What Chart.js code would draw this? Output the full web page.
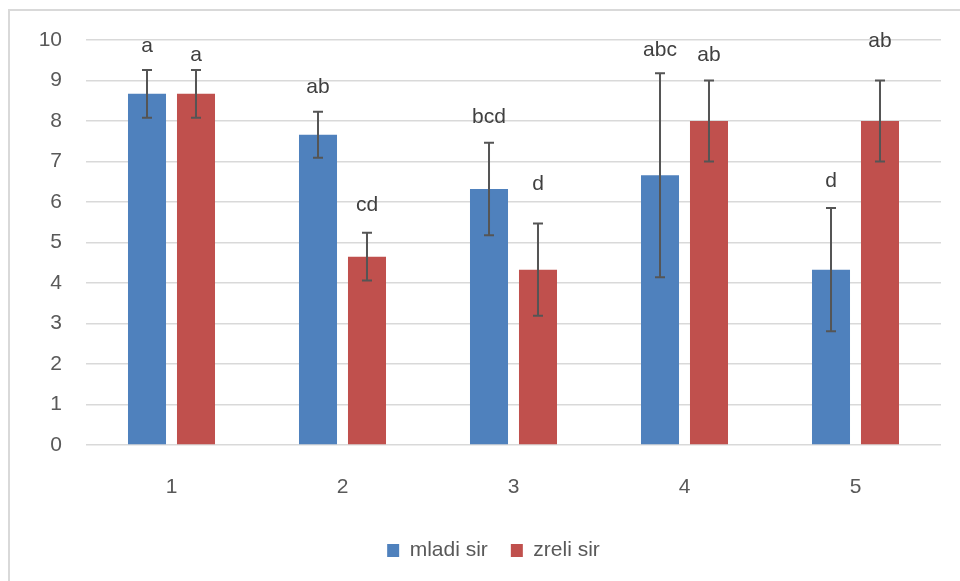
<!DOCTYPE html>
<html>
<head>
<meta charset="utf-8">
<script src="https://cdn.jsdelivr.net/npm/chart.js@4/dist/chart.umd.min.js"></script>
<style>
  body { margin: 0; background: #fff; }
  #wrap { position: relative; width: 960px; height: 581px; overflow: hidden; }
  #frame { position: absolute; left: 8px; top: 9px; width: 1000px; height: 700px;
           border-left: 2px solid #d9d9d9; border-top: 2px solid #d9d9d9; }
  canvas { position: absolute; left: 0; top: 0; }
</style>
</head>
<body>
<div id="wrap">
  <div id="frame"></div>
  <canvas id="myChart" width="960" height="581"></canvas>
</div>
<script>
// categories and series
const groups = ['1', '2', '3', '4', '5'];
const mladiMean = [8.67, 7.66, 6.32, 6.66, 4.33];
const mladiErr  = [0.59, 0.57, 1.14, 2.52, 1.52];
const zreliMean = [8.67, 4.65, 4.33, 8.0, 8.0];
const zreliErr  = [0.59, 0.59, 1.14, 1.0, 1.0];

// significance letters and where their baseline sits (axis units)
const mladiLetters = ['a', 'ab', 'bcd', 'abc', 'd'];
const mladiLetterAt = [9.71, 8.70, 7.96, 9.60, 6.36];
const zreliLetters = ['a', 'cd', 'd', 'ab', 'ab'];
const zreliLetterAt = [9.48, 5.77, 6.29, 9.48, 9.83];

const yTicks = [0, 1, 2, 3, 4, 5, 6, 7, 8, 9, 10];

const errs = [mladiErr, zreliErr];
const means = [mladiMean, zreliMean];
const letters = [mladiLetters, zreliLetters];
const letterAt = [mladiLetterAt, zreliLetterAt];

const FONT = "'Liberation Sans', Arial, sans-serif";

// error bars + letters drawn on top of the bars
const extrasPlugin = {
    id: 'extras',
    afterDatasetsDraw(chart) {
        const ctx = chart.ctx;
        const y = chart.scales.y;
        ctx.save();
        chart.data.datasets.forEach((ds, i) => {
            const meta = chart.getDatasetMeta(i);
            meta.data.forEach((bar, j) => {
                const top = y.getPixelForValue(means[i][j] + errs[i][j]);
                const bot = y.getPixelForValue(means[i][j] - errs[i][j]);
                ctx.strokeStyle = '#555555';
                ctx.lineWidth = 2;
                ctx.beginPath();
                ctx.moveTo(bar.x, top); ctx.lineTo(bar.x, bot);
                ctx.moveTo(bar.x - 5, top); ctx.lineTo(bar.x + 5, top);
                ctx.moveTo(bar.x - 5, bot); ctx.lineTo(bar.x + 5, bot);
                ctx.stroke();

                ctx.fillStyle = '#404040';
                ctx.font = '21px ' + FONT;
                ctx.textAlign = 'center';
                ctx.textBaseline = 'alphabetic';
                ctx.fillText(letters[i][j], bar.x, y.getPixelForValue(letterAt[i][j]));
            });
        });
        ctx.restore();
    }
};

// the legend in the original sits a bit right of centre
const legendShift = {
    id: 'legendShift',
    afterLayout(chart) {
        chart.legend.left += 23;
        chart.legend.right += 23;
    }
};

const ctx = document.getElementById('myChart').getContext('2d');

const myChart = new Chart(ctx, {
    type: 'bar',
    data: {
        labels: groups,
        datasets: [{
            label: 'mladi sir',
            data: mladiMean,
            backgroundColor: '#4F81BD',
            categoryPercentage: 0.573,
            barPercentage: 0.776
        }, {
            label: 'zreli sir',
            data: zreliMean,
            backgroundColor: '#C0504D',
            categoryPercentage: 0.573,
            barPercentage: 0.776
        }]
    },
    options: {
        responsive: false,
        animation: false,
        layout: { padding: { top: 40, right: 19, left: 0, bottom: 10 } },
        plugins: {
            tooltip: { enabled: false },
            legend: {
                position: 'bottom',
                labels: {
                    boxWidth: 12,
                    boxHeight: 13,
                    padding: 23,
                    color: '#595959',
                    font: { family: FONT, size: 21 }
                }
            }
        },
        scales: {
            y: {
                min: 0,
                max: 10,
                afterBuildTicks: s => { s.ticks = yTicks.map(v => ({ value: v })); },
                afterFit: s => { s.width = 86; },
                grid: { color: '#d9d9d9', lineWidth: 1.5, drawTicks: false },
                border: { display: false },
                ticks: { color: '#595959', padding: 24, font: { family: FONT, size: 21 } }
            },
            x: {
                afterFit: s => { s.height = 72; },
                grid: { display: false },
                border: { display: false },
                ticks: { color: '#595959', padding: 22, font: { family: FONT, size: 21 } }
            }
        }
    },
    plugins: [extrasPlugin, legendShift]
});
</script>
</body>
</html>
